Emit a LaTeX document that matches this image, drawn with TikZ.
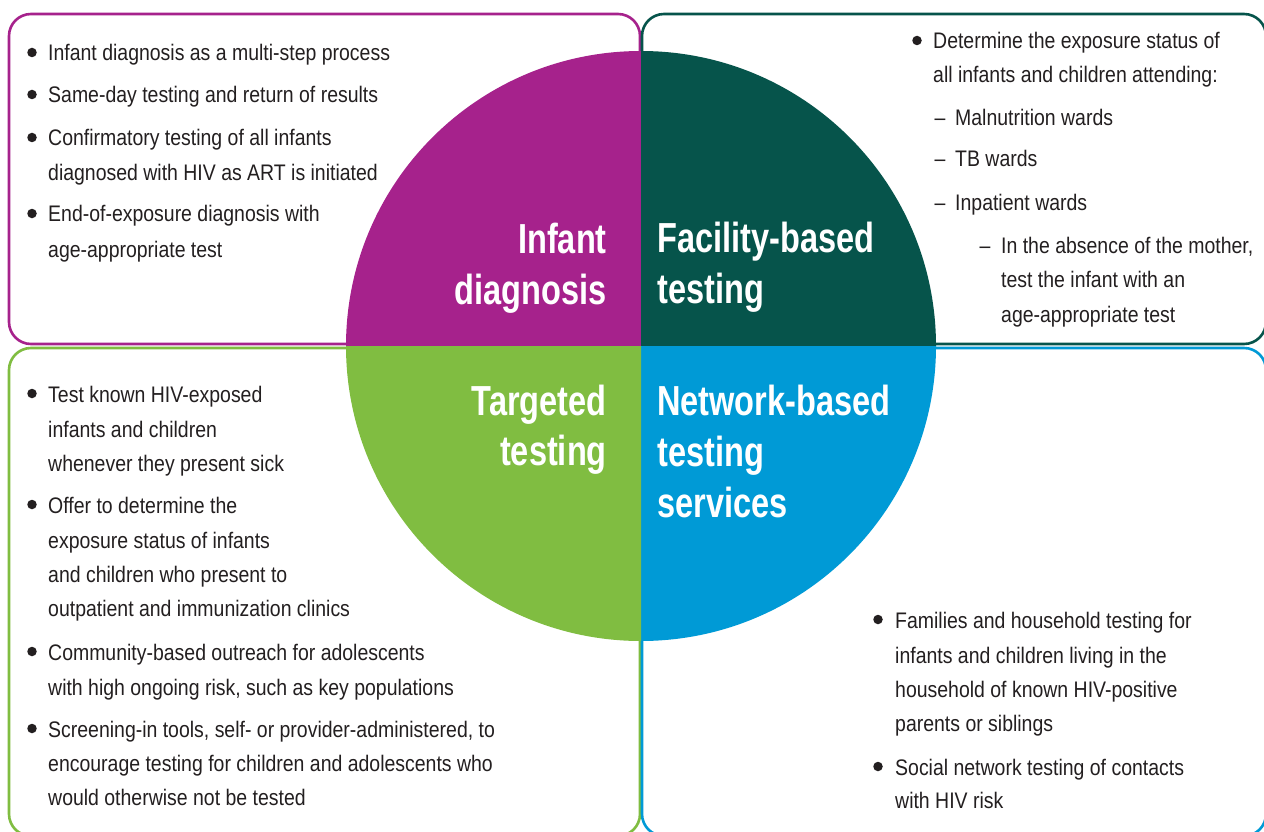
\documentclass[tikz,border=0pt]{standalone}
\usepackage{fontspec}
\setmainfont{Liberation Sans}
\newfontfamily\bodyfont{Liberation Sans}[FakeStretch=0.865]
\newfontfamily\titlefont{Liberation Sans}[FakeStretch=0.775]
\definecolor{cpurple}{HTML}{A6228C}
\definecolor{cdark}{HTML}{06544B}
\definecolor{cgreen}{HTML}{80BD41}
\definecolor{cblue}{HTML}{009AD6}
\definecolor{textcol}{HTML}{231F20}
\tikzset{
  body/.style={anchor=base west, inner sep=0pt, font=\bodyfont\fontsize{22.5}{27}\selectfont, text=textcol},
  dashmark/.style={anchor=base, inner sep=0pt, font=\bodyfont\fontsize{22.5}{27}\selectfont, text=textcol},
  ttlL/.style={anchor=base east, inner sep=0pt, font=\titlefont\bfseries\fontsize{42}{50}\selectfont, text=white},
  ttlR/.style={anchor=base west, inner sep=0pt, font=\titlefont\bfseries\fontsize{42}{50}\selectfont, text=white},
  bdot/.style={circle, fill=textcol, inner sep=0pt, minimum size=9.5pt},
  frame/.style={line width=2.6pt, rounded corners=22pt},
}
\begin{document}
\begin{tikzpicture}[x=1pt,y=-1pt]
\useasboundingbox (0,0) rectangle (1264,832);
\clip (0,0) rectangle (1264,832);
\fill[white] (0,0) rectangle (1264,832);
% frames
\draw[frame, cpurple] (9,14) rectangle (640,344);
\draw[frame, cdark] (642,14) rectangle (1266,344);
\draw[frame, cgreen] (9,348) rectangle (640,836);
\draw[frame, cblue] (642,348) rectangle (1266,836);
% circle quadrants (y axis points down: angle 270 = top)
\coordinate (c) at (641,346);
\fill[cpurple] (c) -- (346,346) arc[start angle=180, end angle=270, radius=295] -- cycle;
\fill[cdark] (c) -- (641,51) arc[start angle=270, end angle=360, radius=295] -- cycle;
\fill[cblue] (c) -- (936,346) arc[start angle=0, end angle=90, radius=295] -- cycle;
\fill[cgreen] (c) -- (641,641) arc[start angle=90, end angle=180, radius=295] -- cycle;
% titles
\node[ttlL] (t1a) at (607,253) {Infant};
\node[ttlL] (t1b) at (607,304) {diagnosis};
\node[ttlR] (t2a) at (657,252) {Facility-based};
\node[ttlR] (t2b) at (657,303) {testing};
\node[ttlL] (t3a) at (607,415) {Targeted};
\node[ttlL] (t3b) at (607,465) {testing};
\node[ttlR] (t4a) at (657,415) {Network-based};
\node[ttlR] (t4b) at (657,466) {testing};
\node[ttlR] (t4c) at (657,517) {services};
% top-left box
\node[bdot] (d1) at (32,52.5) {};
\node[body] (a1) at (48,61) {Infant diagnosis as a multi-step process};
\node[bdot] (d2) at (32,94.5) {};
\node[body] (a2) at (48,103) {Same-day testing and return of results};
\node[bdot] (d3) at (32,137.5) {};
\node[body] (a3) at (48,146) {Confirmatory testing of all infants};
\node[body] (a4) at (48,180) {diagnosed with HIV as ART is initiated};
\node[bdot] (d4) at (32,213.5) {};
\node[body] (a5) at (48,222) {End-of-exposure diagnosis with};
\node[body] (a6) at (48,257) {age-appropriate test};
% top-right box
\node[bdot] (d5) at (917,40.5) {};
\node[body] (b1) at (933,49) {Determine the exposure status of};
\node[body] (b2) at (933,83) {all infants and children attending:};
\node[dashmark] (m1) at (940,126) {–};
\node[body] (b3) at (955,126) {Malnutrition wards};
\node[dashmark] (m2) at (940,167) {–};
\node[body] (b4) at (955,167) {TB wards};
\node[dashmark] (m3) at (940,211) {–};
\node[body] (b5) at (955,211) {Inpatient wards};
\node[dashmark] (m4) at (985,253) {–};
\node[body] (b6) at (1001,253) {In the absence of the mother,};
\node[body] (b7) at (1001,287) {test the infant with an};
\node[body] (b8) at (1001,322) {age-appropriate test};
% bottom-left box
\node[bdot] (d6) at (32,393.5) {};
\node[body] (e1) at (48,402) {Test known HIV-exposed};
\node[body] (e2) at (48,437) {infants and children};
\node[body] (e3) at (48,471) {whenever they present sick};
\node[bdot] (d7) at (32,504.5) {};
\node[body] (e4) at (48,513) {Offer to determine the};
\node[body] (e5) at (48,548) {exposure status of infants};
\node[body] (e6) at (48,582) {and children who present to};
\node[body] (e7) at (48,616) {outpatient and immunization clinics};
\node[bdot] (d8) at (32,651.5) {};
\node[body] (e8) at (48,660) {Community-based outreach for adolescents};
\node[body] (e9) at (48,695) {with high ongoing risk, such as key populations};
\node[bdot] (d9) at (32,728.5) {};
\node[body] (e10) at (48,737) {Screening-in tools, self- or provider-administered, to};
\node[body] (e11) at (48,771) {encourage testing for children and adolescents who};
\node[body] (e12) at (48,805) {would otherwise not be tested};
% bottom-right box
\node[bdot] (d10) at (878,619.5) {};
\node[body] (f1) at (895,628) {Families and household testing for};
\node[body] (f2) at (895,663) {infants and children living in the};
\node[body] (f3) at (895,697) {household of known HIV-positive};
\node[body] (f4) at (895,731) {parents or siblings};
\node[bdot] (d11) at (878,766.5) {};
\node[body] (f5) at (895,775) {Social network testing of contacts};
\node[body] (f6) at (895,808) {with HIV risk};
\end{tikzpicture}
\end{document}
